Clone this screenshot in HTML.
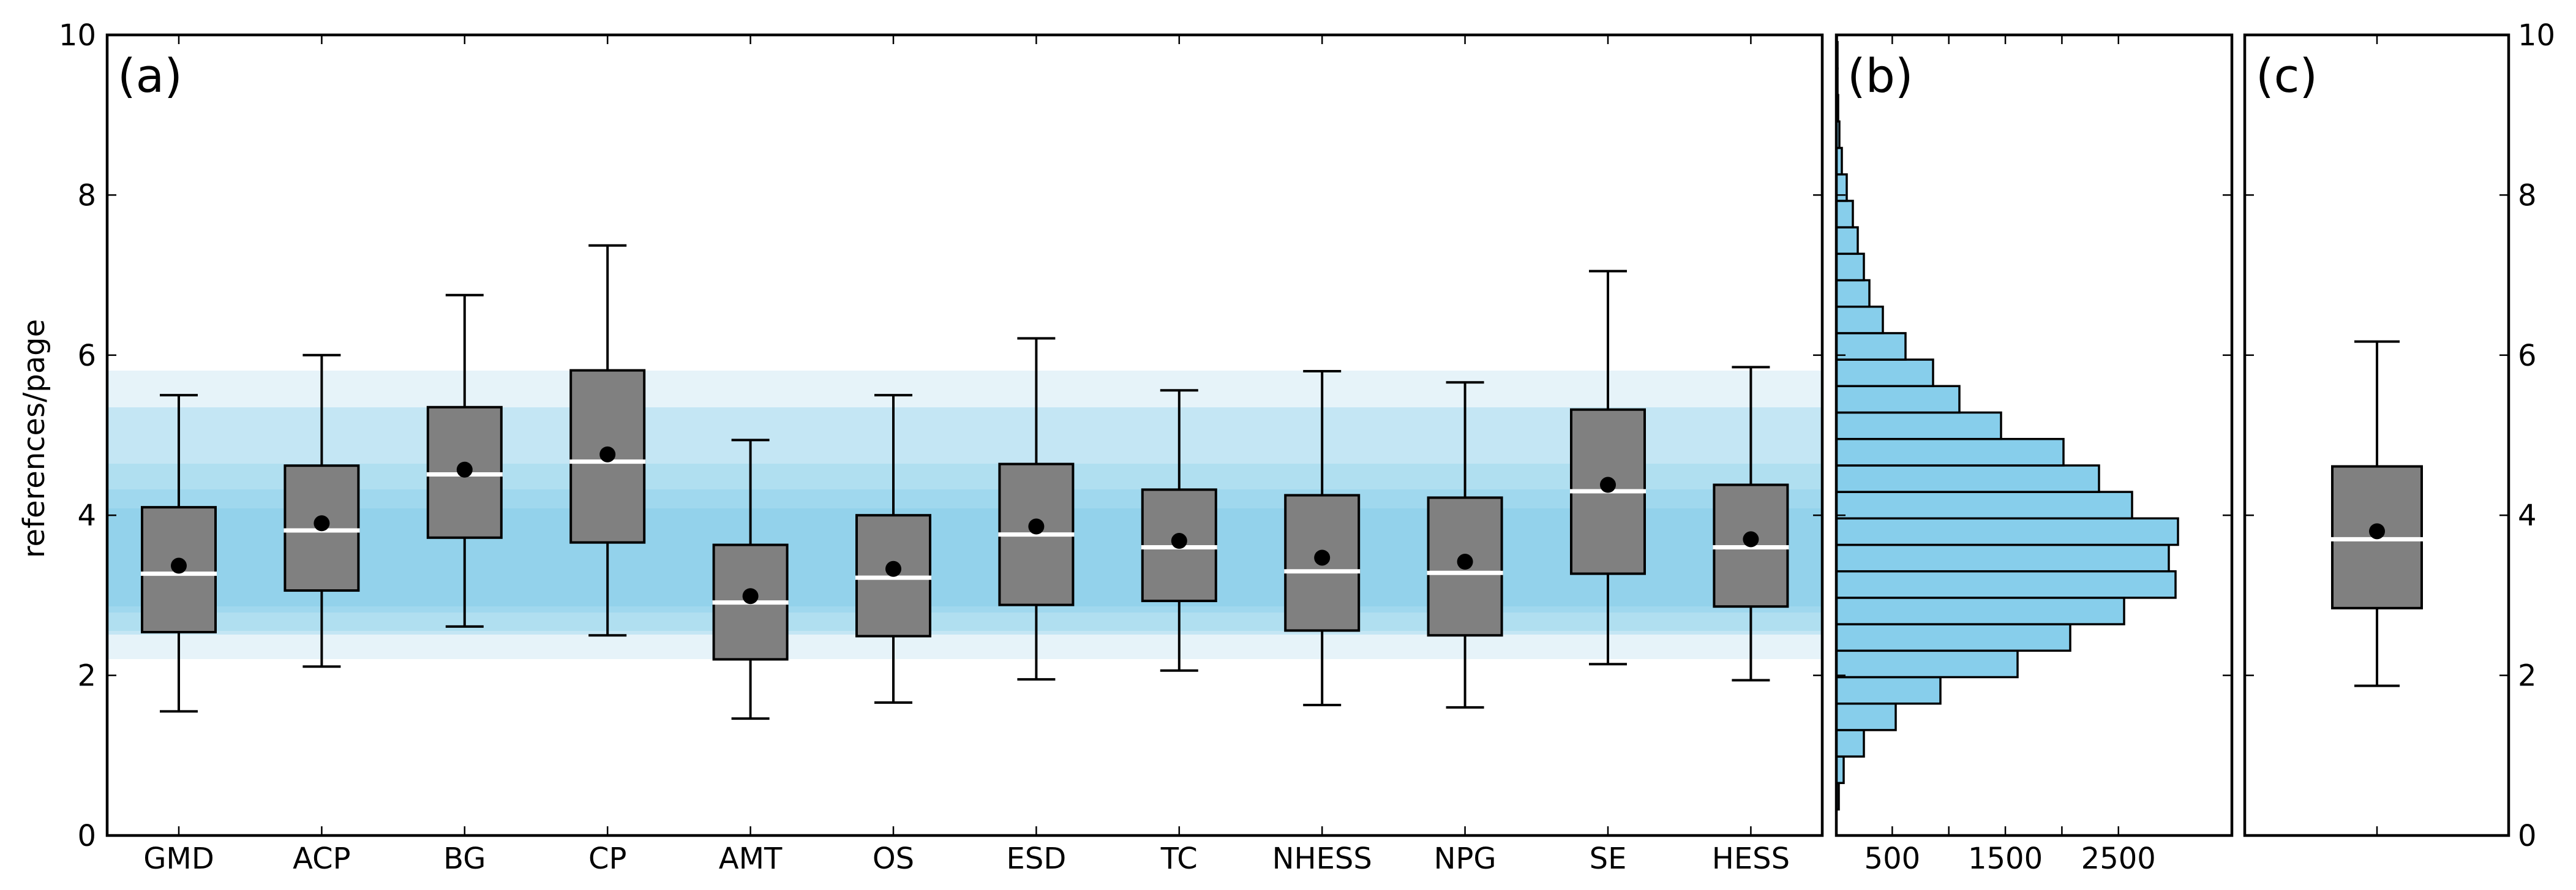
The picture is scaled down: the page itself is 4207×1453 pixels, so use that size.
<!DOCTYPE html>
<html><head><meta charset="utf-8"><style>
html,body{margin:0;padding:0;background:#fff;}
svg{display:block;}
text{font-family:"DejaVu Sans","Liberation Sans",sans-serif;fill:#000;}
</style></head><body>
<svg width="4207" height="1453" viewBox="0 0 4207 1453" xmlns="http://www.w3.org/2000/svg">
<rect x="175" y="605" width="2801" height="471" fill="#e6f3f9"/>
<rect x="175" y="665" width="2801" height="371" fill="#c4e6f4"/>
<rect x="175" y="757" width="2801" height="273" fill="#b0dff0"/>
<rect x="175" y="799" width="2801" height="201" fill="#a0d8ee"/>
<rect x="175" y="830" width="2801" height="160" fill="#93d2eb"/>
<g id="boxes" stroke="#000" stroke-width="4"></g>
<g id="hist" stroke="#000" stroke-width="3.5" fill="#87ceeb"></g>
<g id="axes" fill="none" stroke="#000" stroke-width="4.5">
<rect x="175" y="57" width="2801" height="1307"/>
<rect x="2999" y="57" width="646" height="1307"/>
<rect x="3666" y="57" width="431" height="1307"/>
</g>
<g id="ticks" stroke="#000" stroke-width="2.5"></g>
<g id="labels" font-size="48"></g>
<text x="192" y="150" font-size="76">(a)</text>
<text x="3017" y="150" font-size="76">(b)</text>
<text x="3684" y="150" font-size="76">(c)</text>
<text font-size="48" text-anchor="middle" transform="translate(72,716) rotate(-90)">references/page</text>
</svg>
<script>
const NS="http://www.w3.org/2000/svg";
function el(p,t,a,txt){const e=document.createElementNS(NS,t);for(const k in a)e.setAttribute(k,a[k]);if(txt!==undefined)e.textContent=txt;document.getElementById(p).appendChild(e);}
const Y=v=>1364-130.7*v;
const names=["GMD","ACP","BG","CP","AMT","OS","ESD","TC","NHESS","NPG","SE","HESS"];
const d=[[5.50,4.10,3.27,3.37,2.54,1.55],[6.00,4.62,3.81,3.90,3.06,2.11],[6.75,5.35,4.51,4.57,3.72,2.61],[7.37,5.81,4.67,4.76,3.66,2.50],[4.94,3.63,2.91,2.99,2.20,1.46],[5.50,4.00,3.22,3.33,2.49,1.66],[6.21,4.64,3.76,3.86,2.88,1.95],[5.56,4.32,3.60,3.68,2.93,2.06],[5.80,4.25,3.30,3.47,2.56,1.63],[5.66,4.22,3.28,3.42,2.50,1.60],[7.05,5.32,4.30,4.38,3.27,2.14],[5.85,4.38,3.60,3.70,2.86,1.94]];
function box(cx,v,hw,cw){
 el("boxes","line",{x1:cx,x2:cx,y1:Y(v[0]),y2:Y(v[1])});
 el("boxes","line",{x1:cx,x2:cx,y1:Y(v[4]),y2:Y(v[5])});
 el("boxes","line",{x1:cx-cw,x2:cx+cw,y1:Y(v[0]),y2:Y(v[0])});
 el("boxes","line",{x1:cx-cw,x2:cx+cw,y1:Y(v[5]),y2:Y(v[5])});
 el("boxes","rect",{x:cx-hw,y:Y(v[1]),width:2*hw,height:Y(v[4])-Y(v[1]),fill:"#808080"});
 el("boxes","line",{x1:cx-hw-2,x2:cx+hw+2,y1:Y(v[2]),y2:Y(v[2]),stroke:"#fff","stroke-width":7});
 el("boxes","circle",{cx:cx,cy:Y(v[3]),r:13,fill:"#000",stroke:"none"});
}
d.forEach((v,i)=>{const cx=292+i*233.4;box(cx,v,60,31);
 el("ticks","line",{x1:cx,x2:cx,y1:1364,y2:1349});el("ticks","line",{x1:cx,x2:cx,y1:57,y2:72});
 el("labels","text",{x:cx,y:1418,"text-anchor":"middle"},names[i]);});
box(3882,[6.17,4.61,3.70,3.80,2.84,1.87],73,37);
const w=[4,12,45,97,170,296,382,470,554,543,558,483,429,371,269,201,158,113,76,54,45,35,27,17,9,5,3,2,2,1];
w.forEach((c,k)=>{const yb=1321.5-43.2*k;const yt=Math.max(yb-43.2,57);
 el("hist","rect",{x:2999,y:yt,width:c,height:yb-yt});});
for(let v=0;v<=10;v+=2){const y=Y(v);
 el("labels","text",{x:157,y:y+17,"text-anchor":"end"},String(v));
 el("labels","text",{x:4112,y:y+17,"text-anchor":"start"},String(v));
 if(v>0&&v<10){[[175,190],[2976,2961],[2999,3014],[3645,3630],[3666,3681],[4097,4082]].forEach(p=>el("ticks","line",{x1:p[0],x2:p[1],y1:y,y2:y}));}}
[500,1000,1500,2000,2500].forEach(c=>{const x=2998+0.1847*c;
 el("ticks","line",{x1:x,x2:x,y1:1364,y2:1349});el("ticks","line",{x1:x,x2:x,y1:57,y2:72});
 if(c%1000==500)el("labels","text",{x:x,y:1418,"text-anchor":"middle"},String(c));});
el("ticks","line",{x1:3882,x2:3882,y1:1364,y2:1349});el("ticks","line",{x1:3882,x2:3882,y1:57,y2:72});
</script>
</body></html>
